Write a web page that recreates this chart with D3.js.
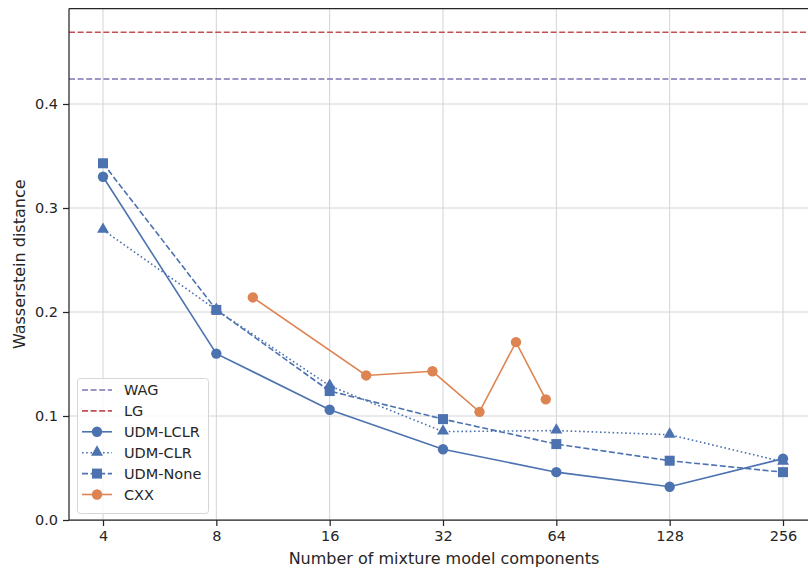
<!DOCTYPE html>
<html>
<head>
<meta charset="utf-8">
<script src="https://cdn.jsdelivr.net/npm/d3@7"></script>
<style>
  body { margin: 0; background: #fff; }
  text { font-family: "DejaVu Sans", sans-serif; fill: #262626; }
</style>
</head>
<body>
<div id="chart"></div>
<script>
// components on the x axis (log2)
var components = [4, 8, 16, 32, 64, 128, 256];
var udmLclr = [0.330, 0.160, 0.106, 0.068, 0.046, 0.032, 0.059];
var udmClr  = [0.279, 0.202, 0.129, 0.085, 0.086, 0.082, 0.056];
var udmNone = [0.343, 0.202, 0.124, 0.097, 0.073, 0.057, 0.046];
var cxxX = [10, 20, 30, 40, 50, 60];
var cxxY = [0.214, 0.139, 0.143, 0.104, 0.171, 0.116];
var wag = 0.424;
var lg = 0.469;
var yTicks = [0.0, 0.1, 0.2, 0.3, 0.4];

const w = 808, h = 569;
const padLeft = 69, padTop = 8.5, padBottom = 520;

const blue = "#4C72B0", orange = "#DD8452", red = "#C44E52", purple = "#8172B3";

const xScale = d3.scaleLog().base(2)
                 .domain([Math.pow(2, 1.7), Math.pow(2, 8.3)])
                 .range([padLeft, 817]);
const yScale = d3.scaleLinear()
                 .domain([0, 0.4])
                 .range([padBottom, 104]);

const svg = d3.select("#chart").append("svg")
              .attr("width", w).attr("height", h);

// grid
svg.append("g").selectAll("line").data(components).enter().append("line")
   .attr("x1", d => xScale(d)).attr("x2", d => xScale(d))
   .attr("y1", padTop).attr("y2", padBottom)
   .attr("stroke", "#d4d4d4").attr("stroke-width", 1);
svg.append("g").selectAll("line").data(yTicks).enter().append("line")
   .attr("x1", padLeft).attr("x2", w)
   .attr("y1", d => yScale(d)).attr("y2", d => yScale(d))
   .attr("stroke", "#d4d4d4").attr("stroke-width", 1);

// reference lines
[[lg, red], [wag, purple]].forEach(function(r){
  svg.append("line")
     .attr("x1", padLeft).attr("x2", w)
     .attr("y1", yScale(r[0])).attr("y2", yScale(r[0]))
     .attr("stroke", r[1]).attr("stroke-width", 1.6)
     .attr("stroke-dasharray", "6,2.6");
});

// axes
const xAxis = d3.axisBottom(xScale).tickValues(components).tickFormat(d3.format("d"))
                .tickSize(6).tickPadding(5);
const yAxis = d3.axisLeft(yScale).tickValues(yTicks).tickFormat(d3.format(".1f"))
                .tickSize(6).tickPadding(5);

const gx = svg.append("g").attr("transform", "translate(0," + padBottom + ")").call(xAxis);
const gy = svg.append("g").attr("transform", "translate(" + padLeft + ",0)").call(yAxis);
[gx, gy].forEach(function(g){
  g.select(".domain").remove();
  g.selectAll(".tick line").attr("stroke", "#262626").attr("stroke-width", 1.25);
  g.selectAll(".tick text").attr("font-size", 14.5).attr("fill", "#262626")
   .style("font-family", "DejaVu Sans, sans-serif");
});

// spines
svg.append("line").attr("x1", padLeft).attr("x2", padLeft).attr("y1", padTop).attr("y2", padBottom)
   .attr("stroke", "#262626").attr("stroke-width", 1.25);
svg.append("line").attr("x1", padLeft).attr("x2", w).attr("y1", padBottom).attr("y2", padBottom)
   .attr("stroke", "#262626").attr("stroke-width", 1.25);
svg.append("line").attr("x1", padLeft).attr("x2", w).attr("y1", padTop).attr("y2", padTop)
   .attr("stroke", "#262626").attr("stroke-width", 1.25);

// axis labels
svg.append("text").attr("x", 444).attr("y", 564)
   .attr("text-anchor", "middle").attr("font-size", 16)
   .text("Number of mixture model components");
svg.append("text").attr("transform", "translate(25," + ((padTop + padBottom) / 2) + ") rotate(-90)")
   .attr("text-anchor", "middle").attr("font-size", 16)
   .text("Wasserstein distance");

const line = d3.line().x(d => xScale(d[0])).y(d => yScale(d[1]));

function marker(g, type, x, y, color){
  if (type === "circle") {
    g.append("circle").attr("cx", x).attr("cy", y).attr("r", 5.2).attr("fill", color);
  } else if (type === "square") {
    g.append("rect").attr("x", x - 5).attr("y", y - 5).attr("width", 10).attr("height", 10)
     .attr("fill", color);
  } else {
    g.append("path").attr("d", d3.symbol().type(d3.symbolTriangle).size(62)())
     .attr("transform", "translate(" + x + "," + (y - 0.5) + ")").attr("fill", color);
  }
}

var series = [
  {x: components, y: udmLclr, color: blue, dash: null, mk: "circle"},
  {x: components, y: udmClr, color: blue, dash: "1.6,2.6", mk: "triangle"},
  {x: components, y: udmNone, color: blue, dash: "6,2.6", mk: "square"},
  {x: cxxX, y: cxxY, color: orange, dash: null, mk: "circle"}
];

series.forEach(function(s){
  var pts = s.x.map((v, i) => [v, s.y[i]]);
  var g = svg.append("g");
  g.append("path").attr("d", line(pts)).attr("fill", "none")
   .attr("stroke", s.color).attr("stroke-width", 1.6)
   .attr("stroke-dasharray", s.dash);
  pts.forEach(p => marker(g, s.mk, xScale(p[0]), yScale(p[1]), s.color));
});

// legend
var legendItems = [
  {name: "WAG", color: purple, dash: "6,2.6", mk: null},
  {name: "LG", color: red, dash: "6,2.6", mk: null},
  {name: "UDM-LCLR", color: blue, dash: null, mk: "circle"},
  {name: "UDM-CLR", color: blue, dash: "1.6,2.6", mk: "triangle"},
  {name: "UDM-None", color: blue, dash: "6,2.6", mk: "square"},
  {name: "CXX", color: orange, dash: null, mk: "circle"}
];
var legendG = svg.append("g");
legendG.append("rect").attr("x", 77.5).attr("y", 378.5).attr("width", 131).attr("height", 135)
   .attr("rx", 3).attr("fill", "#fff").attr("fill-opacity", 0.8)
   .attr("stroke", "#d6d6d6").attr("stroke-width", 1);
legendItems.forEach(function(d, i){
  var y = 390 + i * 20.9;
  legendG.append("line").attr("x1", 82).attr("x2", 112).attr("y1", y).attr("y2", y)
     .attr("stroke", d.color).attr("stroke-width", 1.6).attr("stroke-dasharray", d.dash);
  if (d.mk) marker(legendG, d.mk, 97, y, d.color);
  legendG.append("text").attr("x", 124).attr("y", y + 5).attr("font-size", 14.5).text(d.name);
});
</script>
</body>
</html>
